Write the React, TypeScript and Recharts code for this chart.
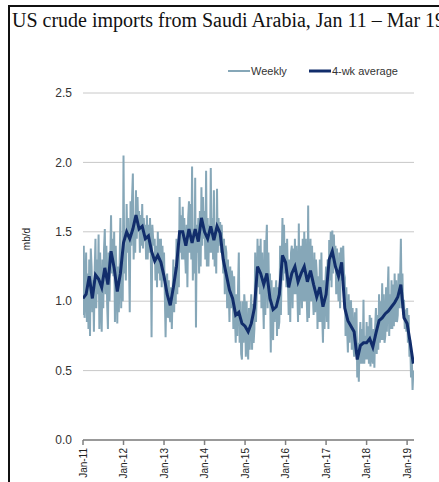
import { CartesianGrid, Legend, Line, LineChart, XAxis, YAxis } from "recharts"

// weekly imports, mb/d (4 values per block of 4 weeks)
const weekly2011 = [0.9, 1.4, 0.88, 1.05, 1.35, 0.85, 1.2, 0.8, 1.3, 0.75, 1.38, 1.25, 0.92, 1.15, 0.78, 1.22, 1.45, 0.95, 1.3, 1.05, 1.48, 0.8, 1.35, 1.0, 0.78, 1.3, 0.95, 1.38, 1.52, 1.05, 1.4, 0.98, 0.8, 1.35, 1.0, 1.3, 1.62, 1.2, 1.45, 1.18, 1.5, 0.85, 1.4, 1.2, 0.84, 1.25, 0.92, 1.28, 1.6, 0.95, 1.3, 1.0]
const weekly2012 = [2.05, 1.2, 1.35, 1.15, 1.7, 1.35, 1.6, 1.3, 0.92, 1.72, 1.4, 1.75, 1.92, 1.3, 1.55, 1.35, 1.8, 1.45, 1.75, 1.5, 1.65, 1.35, 1.62, 1.4, 1.7, 1.38, 1.6, 1.45, 1.55, 1.3, 1.62, 1.3, 1.55, 1.35, 1.6, 1.4, 0.74, 1.55, 1.45, 1.4, 1.45, 1.15, 1.4, 1.1, 1.5, 1.2, 1.45, 1.15, 1.45, 1.1, 1.4, 1.15]
const weekly2013 = [1.35, 1.05, 0.74, 1.1, 1.2, 0.88, 1.15, 0.9, 0.85, 1.1, 0.8, 1.05, 1.3, 0.92, 1.25, 0.98, 1.45, 1.05, 1.4, 1.1, 1.75, 1.35, 1.62, 1.3, 1.68, 1.3, 1.6, 1.35, 1.2, 1.55, 1.1, 1.6, 1.72, 1.35, 1.7, 1.3, 1.97, 1.15, 1.45, 1.2, 1.89, 0.81, 1.55, 1.35, 1.6, 1.2, 1.65, 1.25, 1.82, 1.4, 1.75, 1.45]
const weekly2014 = [1.65, 1.3, 1.94, 1.25, 1.6, 1.25, 1.55, 1.35, 1.96, 1.35, 1.6, 1.3, 1.8, 1.25, 1.5, 1.2, 1.81, 1.35, 1.6, 1.4, 1.57, 1.35, 1.55, 1.4, 1.2, 1.45, 1.05, 1.4, 1.35, 0.95, 1.3, 1.1, 0.85, 1.25, 0.95, 1.22, 1.15, 0.8, 1.18, 0.9, 0.7, 1.05, 0.75, 1.1, 1.35, 0.7, 1.0, 0.62, 0.58, 1.0, 0.7, 1.05]
const weekly2015 = [0.95, 0.6, 1.0, 0.7, 0.58, 0.95, 0.65, 0.92, 1.05, 0.65, 0.98, 0.7, 0.8, 1.35, 0.85, 1.05, 1.45, 1.1, 1.4, 1.05, 1.45, 0.95, 1.35, 1.05, 0.8, 1.44, 0.9, 1.4, 1.55, 0.95, 1.35, 1.0, 1.2, 0.63, 1.15, 0.8, 0.72, 1.1, 0.85, 1.05, 1.15, 0.75, 1.1, 0.8, 0.85, 1.4, 0.9, 1.25, 1.6, 1.15, 1.55, 1.2]
const weekly2016 = [1.42, 1.1, 1.45, 1.15, 0.9, 1.3, 0.85, 1.35, 1.4, 0.95, 1.38, 1.05, 1.45, 1.05, 1.4, 1.1, 0.85, 1.56, 0.9, 1.25, 1.4, 0.95, 1.45, 1.0, 1.5, 1.0, 1.45, 1.05, 0.85, 1.69, 0.88, 1.15, 1.45, 1.0, 1.4, 1.05, 0.9, 1.35, 0.92, 1.3, 1.2, 0.8, 1.18, 0.85, 1.3, 0.85, 1.35, 0.9, 0.7, 1.15, 0.8, 1.12]
const weekly2017 = [1.25, 0.85, 1.3, 0.8, 1.44, 1.15, 1.5, 1.1, 1.51, 1.2, 1.48, 1.25, 1.4, 1.05, 1.38, 1.15, 1.0, 1.35, 0.95, 1.38, 1.38, 1.15, 1.4, 1.2, 1.17, 0.75, 1.1, 0.8, 0.63, 1.05, 0.7, 1.0, 1.0, 0.65, 0.95, 0.7, 0.6, 0.92, 0.65, 0.95, 0.45, 0.7, 0.42, 0.72, 0.85, 0.55, 0.8, 0.55, 1.01, 0.55, 0.75, 0.58]
const weekly2018 = [0.85, 0.58, 0.82, 0.55, 0.9, 0.53, 0.88, 0.6, 0.55, 0.8, 0.52, 0.82, 0.95, 0.62, 0.9, 0.65, 1.05, 0.7, 1.0, 0.72, 1.13, 0.72, 1.05, 0.7, 0.75, 1.1, 0.78, 1.05, 1.25, 0.75, 1.05, 0.8, 1.15, 0.8, 1.12, 0.82, 1.2, 0.85, 1.15, 0.85, 0.9, 1.2, 0.95, 1.15, 1.45, 0.95, 1.2, 0.9, 1.01, 0.8, 0.94, 0.78]
const weekly2019 = [0.95, 0.7, 0.9, 0.6, 0.72, 0.45, 0.6, 0.36, 0.5]

// 4-week average, one value every 4 weeks
const avg2011 = [1.02, 1.05, 1.18, 1.02, 1.19, 1.16, 1.1, 1.24, 1.12, 1.36, 1.24, 1.07, 1.2]
const avg2012 = [1.42, 1.5, 1.45, 1.52, 1.62, 1.52, 1.54, 1.45, 1.47, 1.36, 1.29, 1.33, 1.28]
const avg2013 = [1.18, 1.05, 0.97, 1.1, 1.25, 1.5, 1.5, 1.4, 1.52, 1.42, 1.52, 1.43, 1.6]
const avg2014 = [1.5, 1.45, 1.54, 1.44, 1.54, 1.49, 1.3, 1.19, 1.08, 1.02, 0.9, 0.92, 0.84]
const avg2015 = [0.82, 0.78, 0.84, 0.95, 1.25, 1.2, 1.12, 1.2, 1.02, 0.94, 0.96, 1.05, 1.33]
const avg2016 = [1.28, 1.1, 1.2, 1.25, 1.14, 1.2, 1.25, 1.14, 1.22, 1.12, 1.03, 1.1, 0.96]
const avg2017 = [1.05, 1.3, 1.36, 1.25, 1.18, 1.28, 0.95, 0.86, 0.82, 0.78, 0.58, 0.68, 0.7]
const avg2018 = [0.7, 0.73, 0.67, 0.77, 0.86, 0.88, 0.91, 0.93, 0.96, 0.99, 1.03, 1.12, 0.88]
const avg2019 = [0.84, 0.7, 0.55]

const years = [2011, 2012, 2013, 2014, 2015, 2016, 2017, 2018, 2019]
const yTicks = [0, 0.5, 1, 1.5, 2, 2.5]
const legendOrder = ["Weekly", "4-wk average"]

const weeklyByYear = [weekly2011, weekly2012, weekly2013, weekly2014, weekly2015, weekly2016, weekly2017, weekly2018, weekly2019]
const avgByYear = [avg2011, avg2012, avg2013, avg2014, avg2015, avg2016, avg2017, avg2018, avg2019]

const weeklyRows = years.flatMap((yr, i) => weeklyByYear[i].map((v, w) => ({ t: yr + w / 52, v })))
const avgRows = years.flatMap((yr, i) => avgByYear[i].map((v, k) => ({ t: yr + (k * 4) / 52, v })))

const SANS = "'Liberation Sans', Arial, sans-serif"

const YearTick = (props: any) => {
  const { x, y, payload } = props
  return (
    <text
      x={x}
      y={y}
      transform={`rotate(-90 ${x} ${y})`}
      textAnchor="end"
      dy="0.35em"
      fontSize={10}
      fontFamily={SANS}
      fill="#222"
    >
      {`Jan-${String(payload.value).slice(2)}`}
    </text>
  )
}

const LegendBox = (props: any) => {
  const items = [...(props.payload || [])].sort(
    (a: any, b: any) => legendOrder.indexOf(a.value) - legendOrder.indexOf(b.value)
  )
  return (
    <div style={{ display: "flex", fontFamily: SANS, fontSize: 11, color: "#333", lineHeight: "14px" }}>
      {items.map((p: any) => (
        <div key={p.value} style={{ display: "flex", alignItems: "center", marginRight: 22 }}>
          <svg width={22} height={10}>
            <line x1={0} y1={5} x2={22} y2={5} stroke={p.color} strokeWidth={p.value === "Weekly" ? 2 : 3} />
          </svg>
          <span style={{ marginLeft: 1 }}>{p.value}</span>
        </div>
      ))}
    </div>
  )
}

export default function App() {
  return (
    <div style={{ position: "absolute", left: 0, top: 0, width: 439, height: 482, overflow: "hidden", background: "#fff" }}>
      <div
        style={{
          position: "absolute",
          left: 8,
          top: 5,
          width: 440,
          height: 490,
          borderLeft: "2px solid #111",
          borderTop: "2px solid #111",
        }}
      />
      <div
        style={{
          position: "absolute",
          left: 12,
          top: 9,
          fontFamily: "'Liberation Serif', 'Times New Roman', serif",
          fontSize: 20,
          lineHeight: "23px",
          color: "#111",
          whiteSpace: "nowrap",
        }}
      >
        US crude imports from Saudi Arabia, Jan 11 – Mar 19
      </div>
      <div style={{ position: "absolute", left: 0, top: 0 }}>
        <LineChart width={439} height={482} margin={{ top: 93, right: 25, bottom: 2, left: 43 }}>
          <CartesianGrid vertical={false} stroke="#c8c8c8" />
          <XAxis
            type="number"
            dataKey="t"
            domain={[2011, 2019.17]}
            ticks={years}
            interval={0}
            allowDataOverflow
            height={40}
            tickSize={5}
            tickMargin={3}
            axisLine={{ stroke: "#808080", strokeWidth: 1.5 }}
            tickLine={{ stroke: "#808080", strokeWidth: 1.5 }}
            tick={<YearTick />}
          />
          <YAxis
            type="number"
            domain={[0, 2.5]}
            ticks={yTicks}
            width={40}
            axisLine={false}
            tickLine={false}
            tickMargin={5}
            tickFormatter={(v: number) => v.toFixed(1)}
            tick={{ fontSize: 12, fill: "#333", fontFamily: SANS }}
            label={() => (
              <text
                x={26}
                y={239}
                transform="rotate(-90 26 239)"
                textAnchor="middle"
                dominantBaseline="central"
                fontSize={10}
                fontFamily={SANS}
                fill="#222"
              >
                mb/d
              </text>
            )}
          />
          <Legend
            layout="horizontal"
            verticalAlign="middle"
            align="center"
            wrapperStyle={{ top: 64, left: 228, width: 200 }}
            content={<LegendBox />}
          />
          <Line
            data={weeklyRows}
            dataKey="v"
            name="Weekly"
            type="linear"
            stroke="#86a7b8"
            strokeWidth={2}
            dot={false}
            isAnimationActive={false}
          />
          <Line
            data={avgRows}
            dataKey="v"
            name="4-wk average"
            type="linear"
            stroke="#112d6b"
            strokeWidth={3}
            dot={false}
            isAnimationActive={false}
          />
        </LineChart>
      </div>
    </div>
  )
}
